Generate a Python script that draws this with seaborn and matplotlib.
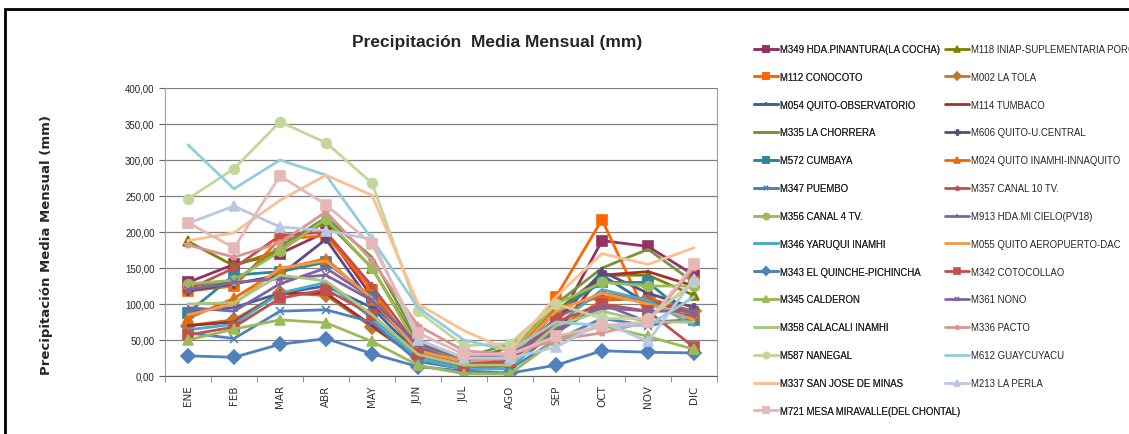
import matplotlib.pyplot as plt
from matplotlib.patches import Rectangle
from matplotlib.ticker import FuncFormatter, MultipleLocator
import pandas as pd
import seaborn as sns

meses = ["ENE", "FEB", "MAR", "ABR", "MAY", "JUN", "JUL", "AGO", "SEP", "OCT", "NOV", "DIC"]

# Precipitación media mensual (mm) por estación
m349 = [130, 155, 170, 200, 110, 40, 15, 20, 70, 188, 180, 140]
m118 = [187, 153, 175, 215, 150, 45, 20, 40, 90, 140, 140, 112]
m112 = [118, 125, 190, 195, 120, 30, 20, 25, 110, 217, 80, 130]
m002 = [70, 78, 115, 112, 68, 25, 12, 15, 65, 105, 108, 90]
m054 = [90, 95, 115, 125, 95, 30, 15, 20, 80, 140, 100, 80]
m114 = [70, 75, 115, 115, 70, 25, 10, 15, 60, 140, 145, 125]
m335 = [125, 130, 180, 220, 165, 50, 25, 45, 100, 150, 176, 130]
m606 = [118, 128, 140, 190, 100, 40, 20, 25, 75, 145, 115, 95]
m572 = [88, 140, 145, 158, 110, 30, 15, 20, 90, 130, 130, 78]
m024 = [80, 108, 148, 163, 105, 35, 20, 25, 95, 110, 105, 85]
m347 = [60, 52, 90, 92, 75, 20, 10, 10, 50, 80, 70, 80]
m357 = [120, 150, 195, 200, 125, 40, 20, 25, 80, 115, 105, 88]
m356 = [128, 133, 173, 218, 150, 40, 20, 30, 100, 130, 125, 125]
m913 = [95, 90, 128, 150, 108, 40, 18, 20, 60, 100, 75, 78]
m346 = [64, 72, 115, 130, 80, 25, 10, 10, 70, 120, 105, 70]
m055 = [85, 100, 150, 160, 108, 35, 20, 25, 90, 115, 100, 78]
m343 = [28, 26, 44, 52, 31, 13, 7, 4, 15, 35, 33, 32]
m342 = [57, 68, 108, 120, 85, 30, 15, 20, 75, 100, 90, 40]
m345 = [50, 65, 78, 74, 48, 15, 3, 3, 50, 70, 55, 37]
m361 = [120, 130, 135, 140, 105, 45, 25, 30, 65, 95, 90, 90]
m358 = [100, 102, 140, 132, 85, 30, 15, 15, 70, 90, 75, 75]
m336 = [182, 165, 185, 228, 160, 70, 35, 30, 50, 60, 75, 150]
m587 = [246, 288, 353, 324, 268, 90, 42, 45, 100, 80, 80, 130]
m612 = [321, 260, 300, 279, 190, 95, 50, 35, 75, 70, 70, 110]
m337 = [188, 199, 244, 279, 251, 100, 63, 35, 110, 170, 155, 178]
m213 = [212, 236, 207, 202, 190, 50, 25, 25, 40, 75, 48, 135]
m721 = [213, 178, 278, 238, 183, 60, 30, 30, 55, 70, 75, 155]

estaciones = [
    ("M349 HDA.PINANTURA(LA COCHA)", m349, "#953163", "s"),
    ("M118 INIAP-SUPLEMENTARIA PORCINOS", m118, "#808000", "^"),
    ("M112 CONOCOTO", m112, "#FF6600", "s"),
    ("M002 LA TOLA", m002, "#C0772E", "D"),
    ("M054 QUITO-OBSERVATORIO", m054, "#3A64A4", "+"),
    ("M114 TUMBACO", m114, "#A0302E", None),
    ("M335 LA CHORRERA", m335, "#77933C", None),
    ("M606 QUITO-U.CENTRAL", m606, "#604A7B", "P"),
    ("M572 CUMBAYA", m572, "#31859C", "s"),
    ("M024 QUITO INAMHI-INNAQUITO", m024, "#E46C0A", "^"),
    ("M347 PUEMBO", m347, "#4F81BD", "x"),
    ("M357 CANAL 10 TV.", m357, "#C0504D", "*"),
    ("M356 CANAL 4 TV.", m356, "#9BBB59", "o"),
    ("M913 HDA.MI CIELO(PV18)", m913, "#8064A2", "+"),
    ("M346 YARUQUI INAMHI", m346, "#4BACC6", None),
    ("M055 QUITO AEROPUERTO-DAC", m055, "#F79646", None),
    ("M343 EL QUINCHE-PICHINCHA", m343, "#4F81BD", "D"),
    ("M342 COTOCOLLAO", m342, "#C0504D", "s"),
    ("M345 CALDERON", m345, "#9BBB59", "^"),
    ("M361 NONO", m361, "#8064A2", "x"),
    ("M358 CALACALI INAMHI", m358, "#A9C87E", None),
    ("M336 PACTO", m336, "#D99594", "*"),
    ("M587 NANEGAL", m587, "#C3D69B", "o"),
    ("M612 GUAYCUYACU", m612, "#93CDDD", None),
    ("M337 SAN JOSE DE MINAS", m337, "#FAC090", None),
    ("M213 LA PERLA", m213, "#B9C7E2", "^"),
    ("M721 MESA MIRAVALLE(DEL CHONTAL)", m721, "#E6B9B8", "s"),
]

sns.set_style("white")
plt.rcParams["font.family"] = ["Liberation Sans Narrow", "Liberation Sans", "DejaVu Sans"]

fig = plt.figure(figsize=(11.29, 4.35), dpi=100)
ax = fig.add_axes([165 / 1129, 1 - 377 / 435, 552 / 1129, 288 / 435])

for nombre, valores, color, marcador in estaciones:
    df = pd.DataFrame({"mes": meses, "mm": valores})
    ms = 7 if marcador in ("o", "s", "^", "D") else 6
    sns.lineplot(
        data=df, x="mes", y="mm", sort=False, ax=ax, color=color,
        marker=marcador, markersize=ms, markeredgecolor=color,
        markeredgewidth=1.2, linewidth=2.0, label=nombre,
    )

ax.set_xlim(-0.5, 11.5)
ax.set_ylim(0, 400)
ax.yaxis.set_major_locator(MultipleLocator(50))
ax.yaxis.set_major_formatter(FuncFormatter(lambda v, p: f"{v:.2f}".replace(".", ",")))
ax.grid(axis="y", color="#808080", linewidth=0.9)
ax.set_axisbelow(True)
for lado in ["left", "right"]:
    ax.spines[lado].set_color("#A0A0A0")
ax.spines["bottom"].set_color("#606060")
ax.spines["top"].set_visible(False)

ax.set_xticks(range(12))
ax.set_xticklabels(meses, rotation=90, fontsize=7.5, family="DejaVu Sans", color="#333333")
ax.set_xticks([i + 0.5 for i in range(-1, 12)], minor=True)
ax.tick_params(axis="x", which="major", length=0, pad=6)
ax.tick_params(axis="x", which="minor", length=4, color="#808080", bottom=True)
ax.tick_params(axis="y", length=4, color="#606060", labelsize=7, left=True)
ax.set_xlabel("")
ax.set_ylabel("Precipitación Media Mensual (mm)", fontsize=9.5,
              fontweight="bold", family="DejaVu Sans")
ax.yaxis.set_label_coords(-0.203, 0.458)

fig.text(497 / 1129, 1 - 43 / 435, "Precipitación  Media Mensual (mm)",
         ha="center", va="center", fontsize=12.5, fontweight="bold")

# Leyenda en dos columnas, llenada por filas como en Excel
handles, labels = ax.get_legend_handles_labels()
ax.get_legend().remove()
opciones = dict(loc="upper left", frameon=False, fontsize=6.9, handlelength=2.5,
                handletextpad=0.2, labelspacing=1.86, markerscale=0.6,
                borderpad=0, borderaxespad=0)
ley1 = fig.legend(handles[0::2], labels[0::2],
                  bbox_to_anchor=(754 / 1129, 1 - 45 / 435), **opciones)
fig.legend(handles[1::2], labels[1::2],
           bbox_to_anchor=(945 / 1129, 1 - 45 / 435), **opciones)
fig.add_artist(ley1)

fig.patches.append(Rectangle((5 / 1129, -0.1), 1.2, 1.1 - 10 / 435,
                             transform=fig.transFigure, fill=False,
                             edgecolor="black", linewidth=2))

fig.savefig("out.png", dpi=100)
